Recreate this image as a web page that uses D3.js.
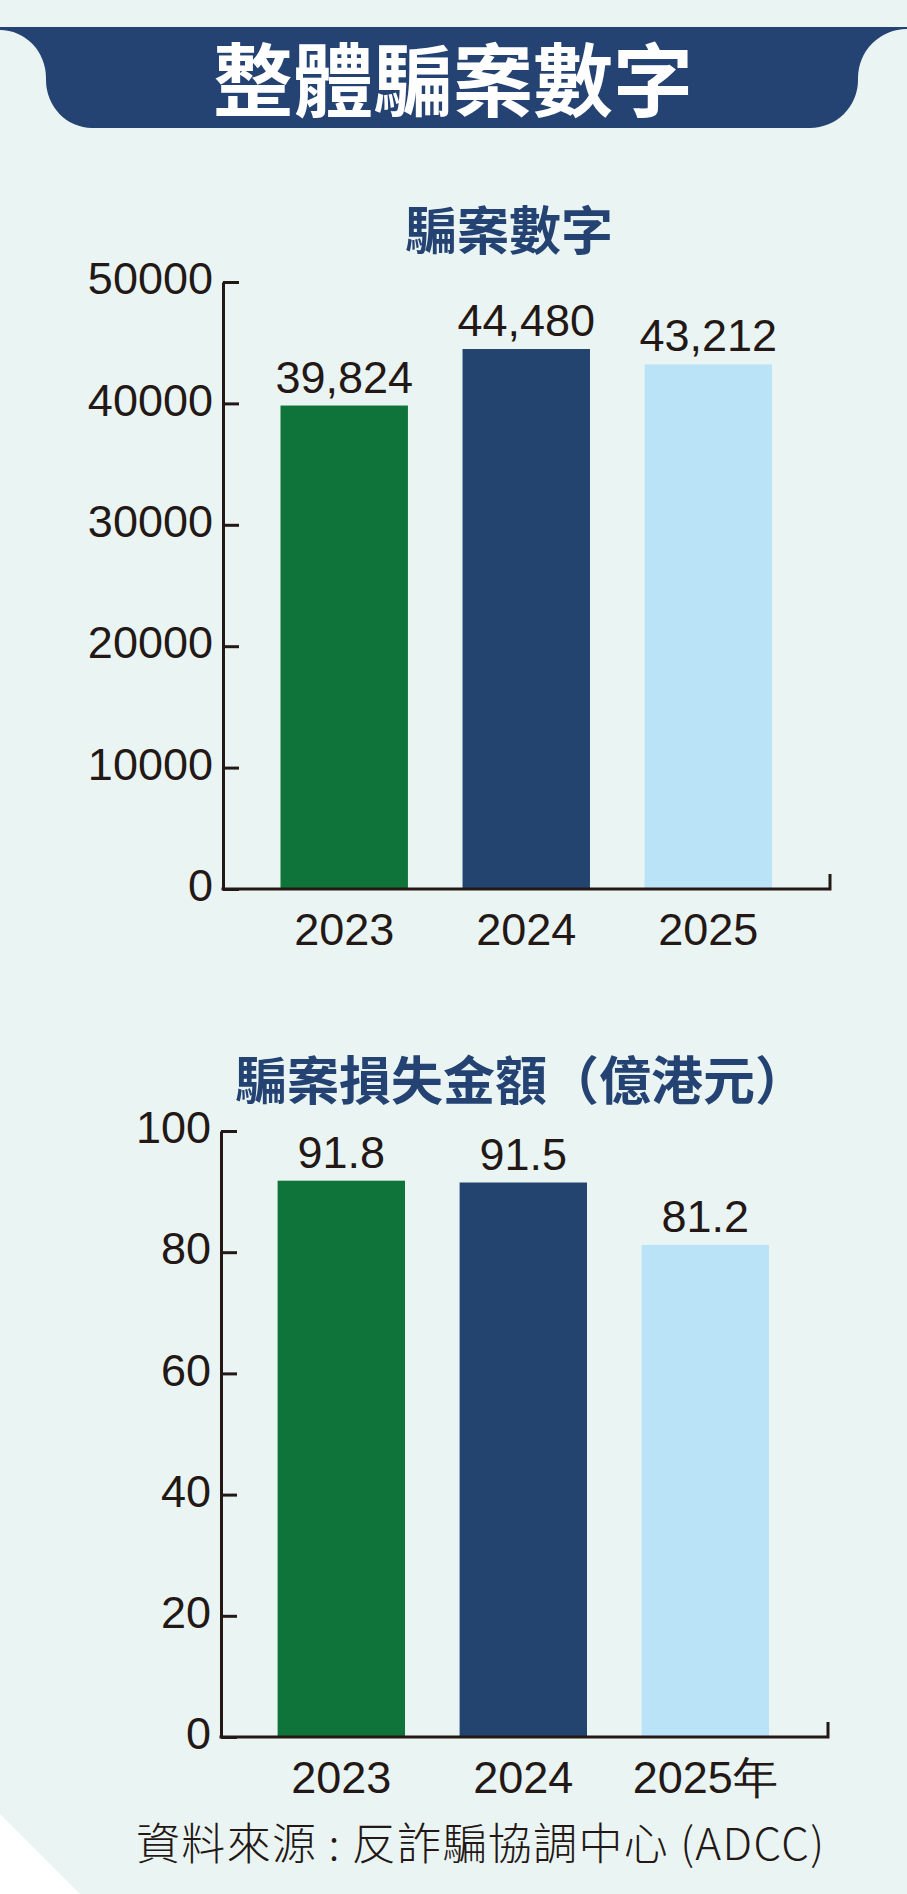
<!DOCTYPE html>
<html lang="zh-Hant">
<head>
    <meta charset="UTF-8">
    <title>整體騙案數字</title>
    <script src="https://d3js.org/d3.v7.min.js"></script>
    <style>
        html, body { margin: 0; padding: 0; background: #ffffff; }
        svg { display: block; }
    </style>
</head>
<body>

<svg id="main" viewBox="0 0 907 1894" width="907" height="1894"></svg>
<script>

    // data
    const caseYears = ['2023', '2024', '2025'];
    const caseCounts = [39824, 44480, 43212];
    const caseTicks = [0, 10000, 20000, 30000, 40000, 50000];

    const lossYears = ['2023', '2024', '2025年'];
    const lossAmounts = [91.8, 91.5, 81.2];
    const lossTicks = [0, 20, 40, 60, 80, 100];

    const barColors = ['#0f7439', '#22446f', '#bae3f8'];
    const ink = '#231815';
    const navy = '#244373';
    const numFont = '"Liberation Sans", Arial, Helvetica, sans-serif';
    const cjkFont = '"Noto Sans CJK TC", "Noto Sans CJK SC", sans-serif';
    const numSize = '45px';

    let svg = d3.select('svg#main');

    // background with the cut bottom-left corner
    svg.append('rect').attr('width', 907).attr('height', 1894).attr('fill', '#ffffff');
    svg.append('path')
        .attr('d', 'M0,0 H907 V1894 H80 L0,1814 Z')
        .attr('fill', '#eaf5f3');

    // banner
    svg.append('path')
        .attr('d', 'M0,27 H907 V29 A49,49 0 0 0 858,78 V80 A48,48 0 0 1 810,128 H92 A46,48 0 0 1 46,80 V78 A46,48 0 0 0 0,30 Z')
        .attr('fill', navy);

    svg.append('text')
        .attr('x', 453).attr('y', 75)
        .attr('text-anchor', 'middle')
        .attr('dominant-baseline', 'central')
        .style('font-family', cjkFont)
        .style('font-weight', 700)
        .style('font-size', '80px')
        .attr('fill', '#ffffff')
        .text('整體騙案數字');

    function drawChart(cfg) {
        let g = svg.append('g');

        g.append('text')
            .attr('x', cfg.titleX).attr('y', cfg.titleY)
            .attr('text-anchor', cfg.titleAnchor)
            .attr('dominant-baseline', 'central')
            .style('font-family', cjkFont)
            .style('font-weight', 700)
            .style('font-size', '52px')
            .attr('fill', navy)
            .text(cfg.title);

        let yScale = d3.scaleLinear()
            .domain([0, d3.max(cfg.ticks)])
            .range([cfg.bottom, cfg.top]);

        let xScale = d3.scaleBand()
            .domain(cfg.categories)
            .range([cfg.barStart, cfg.barEnd])
            .paddingInner(0.3)
            .paddingOuter(0);

        // bars
        g.selectAll('rect.bar')
            .data(cfg.values)
            .enter()
            .append('rect')
            .attr('class', 'bar')
            .attr('x', (d, i) => xScale(cfg.categories[i]))
            .attr('width', xScale.bandwidth())
            .attr('y', d => yScale(d))
            .attr('height', d => yScale(0) - yScale(d))
            .style('fill', (d, i) => barColors[i]);

        // value labels
        g.selectAll('text.val')
            .data(cfg.values)
            .enter()
            .append('text')
            .attr('class', 'val')
            .attr('x', (d, i) => xScale(cfg.categories[i]) + xScale.bandwidth() / 2)
            .attr('y', d => yScale(d) - 13)
            .attr('text-anchor', 'middle')
            .style('font-family', numFont)
            .style('font-size', numSize)
            .attr('fill', ink)
            .text(d => cfg.format(d));

        // y axis, ticks pointing inward
        let yAxis = d3.axisLeft(yScale)
            .tickValues(cfg.ticks)
            .tickSize(-16)
            .tickSizeOuter(0)
            .tickPadding(10)
            .tickFormat(d3.format('d'));

        let ya = g.append('g')
            .attr('transform', `translate(${cfg.axisX},0)`)
            .call(yAxis);
        ya.selectAll('path, line').attr('stroke', ink).attr('stroke-width', 3);
        ya.selectAll('text')
            .attr('dy', '0.26em')
            .style('font-family', numFont)
            .style('font-size', numSize)
            .attr('fill', ink);

        // x axis baseline with the small end tick
        g.append('path')
            .attr('d', `M${cfg.axisX - 1.5},${yScale(0)} H${cfg.axisEnd} V${yScale(0) - 15}`)
            .attr('fill', 'none')
            .attr('stroke', ink)
            .attr('stroke-width', 3);

        let xAxis = d3.axisBottom(xScale).tickSize(0).tickPadding(24);
        let xa = g.append('g')
            .attr('transform', `translate(0,${yScale(0)})`)
            .call(xAxis);
        xa.select('.domain').remove();
        xa.selectAll('text')
            .style('font-family', numFont)
            .style('font-size', numSize)
            .attr('fill', ink);
    }

    drawChart({
        title: '騙案數字', titleX: 509, titleY: 227, titleAnchor: 'middle',
        categories: caseYears, values: caseCounts, ticks: caseTicks,
        format: d3.format(','),
        top: 282, bottom: 889, axisX: 223, axisEnd: 830,
        barStart: 280.5, barEnd: 772
    });

    drawChart({
        title: '騙案損失金額（億港元）', titleX: 235, titleY: 1077, titleAnchor: 'start',
        categories: lossYears, values: lossAmounts, ticks: lossTicks,
        format: d3.format('.1f'),
        top: 1131, bottom: 1737, axisX: 221, axisEnd: 828,
        barStart: 277.6, barEnd: 769
    });

    svg.append('text')
        .attr('x', 136).attr('y', 1860)
        .attr('textLength', 688)
        .attr('lengthAdjust', 'spacing')
        .style('font-family', cjkFont)
        .style('font-weight', 300)
        .style('font-size', '44px')
        .attr('fill', ink)
        .text('資料來源 : 反詐騙協調中心 (ADCC)');

</script>
</body>
</html>
